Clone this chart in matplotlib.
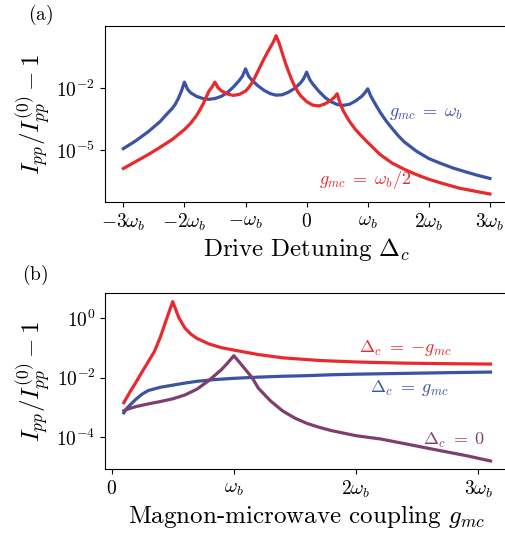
import numpy as np
import matplotlib
matplotlib.use("Agg")
import matplotlib.pyplot as plt
from matplotlib.ticker import NullLocator

plt.rcParams['mathtext.fontset'] = 'cm'

# colours of the three curves
red = '#e8292e'
blue = '#3a53a4'
purple = '#7e3f6f'

# ---- panel (a): response vs drive detuning (units of omega_b), log10 values
det_blue = [-3.0, -2.8, -2.6, -2.4, -2.3, -2.2, -2.15, -2.1, -2.05, -2.0, -1.95, -1.9, -1.8,
            -1.7, -1.6, -1.5, -1.4, -1.3, -1.2, -1.1, -1.05, -1.0, -0.95, -0.9, -0.8, -0.7,
            -0.6, -0.5, -0.4, -0.3, -0.2, -0.1, -0.05, 0.0, 0.05, 0.1, 0.2, 0.3, 0.4, 0.5,
            0.6, 0.7, 0.8, 0.9, 0.95, 1.0, 1.05, 1.1, 1.2, 1.3, 1.4, 1.5, 1.6, 1.8, 2.0,
            2.2, 2.4, 2.6, 2.8, 3.0]
log_blue = [-4.92, -4.55, -4.12, -3.62, -3.29, -2.98, -2.78, -2.50, -2.15, -1.71, -2.05, -2.22,
            -2.40, -2.50, -2.54, -2.50, -2.40, -2.22, -1.95, -1.62, -1.42, -1.07, -1.42, -1.60,
            -1.88, -2.10, -2.26, -2.34, -2.32, -2.20, -2.02, -1.75, -1.55, -1.23, -1.58, -1.80,
            -2.15, -2.45, -2.66, -2.79, -2.83, -2.78, -2.62, -2.40, -2.24, -2.03, -2.38, -2.65,
            -3.15, -3.58, -3.95, -4.30, -4.60, -5.05, -5.40, -5.64, -5.86, -6.04, -6.21, -6.36]

det_red = [-3.0, -2.8, -2.6, -2.4, -2.2, -2.0, -1.9, -1.8, -1.7, -1.65, -1.6, -1.55, -1.5,
           -1.45, -1.4, -1.3, -1.2, -1.1, -1.0, -0.95, -0.9, -0.85, -0.8, -0.75, -0.7, -0.65,
           -0.6, -0.55, -0.5, -0.45, -0.4, -0.35, -0.3, -0.25, -0.2, -0.15, -0.1, 0.0, 0.1,
           0.2, 0.3, 0.4, 0.45, 0.5, 0.55, 0.6, 0.7, 0.8, 0.9, 1.0, 1.2, 1.4, 1.6, 1.8, 2.0,
           2.2, 2.5, 2.8, 3.0]
log_red = [-5.88, -5.55, -5.22, -4.86, -4.48, -4.00, -3.70, -3.32, -2.80, -2.48, -2.15, -1.95,
           -1.71, -1.98, -2.12, -2.28, -2.35, -2.30, -2.14, -1.98, -1.77, -1.50, -1.20, -0.90,
           -0.60, -0.32, -0.06, 0.20, 0.53, 0.18, -0.30, -0.76, -1.17, -1.55, -1.88, -2.15,
           -2.36, -2.65, -2.82, -2.86, -2.76, -2.58, -2.45, -2.27, -2.75, -3.10, -3.60, -4.00,
           -4.32, -4.62, -5.20, -5.62, -5.92, -6.18, -6.40, -6.58, -6.83, -7.00, -7.11]

det_ticks = [-3, -2, -1, 0, 1, 2, 3]
det_ticklabels = [r'$-3\omega_b$', r'$-2\omega_b$', r'$-\omega_b$', r'$0$',
                  r'$\omega_b$', r'$2\omega_b$', r'$3\omega_b$']

# ---- panel (b): response vs coupling g_mc (units of omega_b)
g_red = [0.1, 0.15, 0.2, 0.25, 0.3, 0.35, 0.4, 0.45, 0.5, 0.55, 0.6, 0.65, 0.7, 0.8, 0.9,
         1.0, 1.2, 1.4, 1.7, 2.0, 2.4, 2.8, 3.1]
logb_red = [-2.84, -2.48, -2.15, -1.80, -1.46, -1.12, -0.62, -0.02, 0.56, 0.02, -0.33, -0.54,
            -0.68, -0.87, -0.99, -1.07, -1.22, -1.33, -1.42, -1.47, -1.51, -1.53, -1.54]

g_blue = [0.1, 0.12, 0.15, 0.2, 0.25, 0.3, 0.4, 0.5, 0.6, 0.7, 0.85, 1.0, 1.2, 1.4, 1.6,
          1.8, 2.0, 2.3, 2.6, 2.9, 3.1]
logb_blue = [-3.18, -3.05, -2.92, -2.72, -2.55, -2.43, -2.32, -2.25, -2.18, -2.12, -2.06,
             -2.02, -1.98, -1.95, -1.93, -1.90, -1.88, -1.86, -1.84, -1.82, -1.81]

g_purple = [0.1, 0.15, 0.2, 0.3, 0.4, 0.5, 0.6, 0.7, 0.8, 0.9, 0.95, 1.0, 1.05, 1.1, 1.15,
            1.2, 1.3, 1.4, 1.5, 1.6, 1.7, 1.8, 2.0, 2.2, 2.4, 2.66, 2.9, 3.1]
logb_purple = [-3.11, -3.03, -2.97, -2.88, -2.80, -2.71, -2.58, -2.38, -2.08, -1.72, -1.50,
               -1.26, -1.50, -1.75, -2.00, -2.35, -2.78, -3.12, -3.36, -3.54, -3.67, -3.78,
               -3.95, -4.06, -4.22, -4.43, -4.62, -4.80]

g_ticks = [0, 1, 2, 3]
g_ticklabels = [r'$0$', r'$\omega_b$', r'$2\omega_b$', r'$3\omega_b$']

ylab = r'$I_{pp}/I_{pp}^{(0)}-1$'

fig = plt.figure(figsize=(5.06, 5.36), dpi=100)

# panel (a)
ax1 = fig.add_axes([0.2075, 0.623, 0.797, 0.3285])
ax1.semilogy(det_blue, 10.0 ** np.array(log_blue), color=blue, lw=2.3)
ax1.semilogy(det_red, 10.0 ** np.array(log_red), color=red, lw=2.3)
ax1.set_xlim(-3.3, 3.3)
ax1.set_ylim(10 ** -7.5, 10 ** 1.0)
ax1.set_yticks([1e-5, 1e-2])
ax1.set_yticklabels([r'$10^{-5}$', r'$10^{-2}$'])
ax1.yaxis.set_minor_locator(NullLocator())
ax1.set_xticks(det_ticks)
ax1.set_xticklabels(det_ticklabels)
ax1.tick_params(labelsize=14)
ax1.set_xlabel(r'$\mathrm{Drive\ Detuning}\ \Delta_c$', fontsize=18, labelpad=2)
ax1.set_ylabel(ylab, fontsize=18, labelpad=2)
ax1.text(1.35, 10 ** -3.22, r'$g_{mc}\;=\;\omega_b$', color=blue, fontsize=13, va='center')
ax1.text(0.2, 10 ** -6.44, r'$g_{mc}\;=\;\omega_b/2$', color=red, fontsize=13, va='center')
fig.text(0.055, 0.972, r'$\mathrm{(a)}$', fontsize=14, va='center')

# panel (b)
ax2 = fig.add_axes([0.208, 0.125, 0.796, 0.3278])
ax2.semilogy(g_red, 10.0 ** np.array(logb_red), color=red, lw=2.3)
ax2.semilogy(g_blue, 10.0 ** np.array(logb_blue), color=blue, lw=2.3)
ax2.semilogy(g_purple, 10.0 ** np.array(logb_purple), color=purple, lw=2.3)
ax2.set_xlim(-0.052, 3.243)
ax2.set_ylim(10 ** -5.07, 10 ** 0.84)
ax2.set_yticks([1e-4, 1e-2, 1e0])
ax2.set_yticklabels([r'$10^{-4}$', r'$10^{-2}$', r'$10^{0}$'])
ax2.yaxis.set_minor_locator(NullLocator())
ax2.set_xticks(g_ticks)
ax2.set_xticklabels(g_ticklabels)
ax2.tick_params(labelsize=14)
ax2.set_xlabel(r'Magnon-microwave coupling $g_{mc}$', fontsize=18, labelpad=2,
               fontfamily='cmr10')
ax2.set_ylabel(ylab, fontsize=18, labelpad=2)
ax2.text(2.02, 10 ** -1.0, r'$\Delta_c\;=\;{-}g_{mc}$', color=red, fontsize=13, va='center')
ax2.text(2.11, 10 ** -2.35, r'$\Delta_c\;=\;g_{mc}$', color=blue, fontsize=13, va='center')
ax2.text(2.55, 10 ** -4.1, r'$\Delta_c\;=\;0$', color=purple, fontsize=13, va='center')
fig.text(0.043, 0.487, r'$\mathrm{(b)}$', fontsize=14, va='center')

fig.savefig('out.png', dpi=100)
